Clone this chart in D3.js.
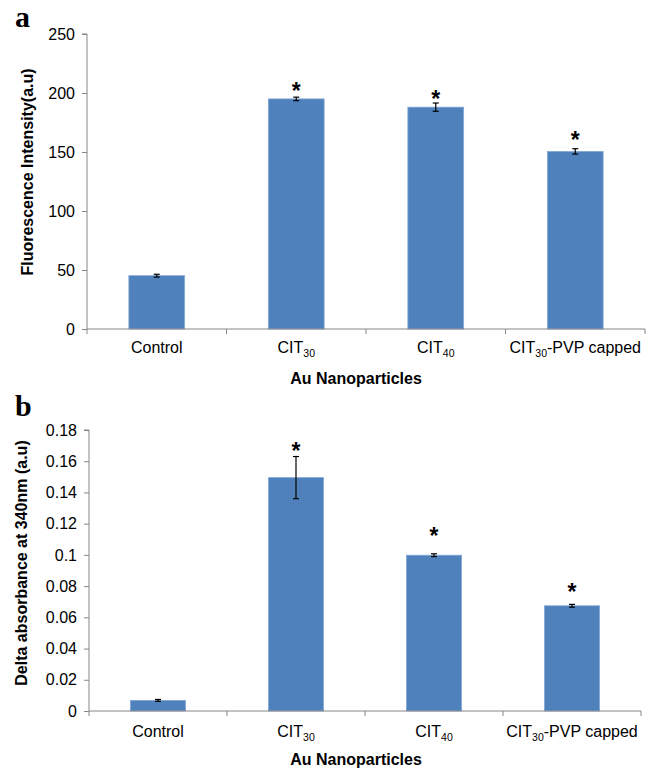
<!doctype html>
<html lang="en">
<head>
<meta charset="utf-8">
<title>Au nanoparticles</title>
<script src="https://cdn.jsdelivr.net/npm/d3@7"></script>
<style>
  body { margin: 0; background: #fff; }
  svg { display: block; font-family: "Liberation Sans", Arial, sans-serif; }
</style>
</head>
<body>
<svg id="chart" width="662" height="768"></svg>
<script>
// categories: [main text, subscript, trailing text]
const categories = [
  ["Control", "", ""],
  ["CIT", "30", ""],
  ["CIT", "40", ""],
  ["CIT", "30", "-PVP capped"]
];
const significant = [false, true, true, true];

// panel a - fluorescence
const fluorValues = [45.2, 195, 188, 150.5];
const fluorErrors = [1.2, 1.5, 3.5, 2.3];
const fluorStars  = [null, 205.5, 198, 163.5];
const fluorTicks  = [0, 50, 100, 150, 200, 250];

// panel b - delta absorbance
const absValues = [0.0068, 0.1495, 0.0998, 0.0674];
const absErrors = [0.0006, 0.0135, 0.0009, 0.0009];
const absStars  = [null, 0.1688, 0.1149, 0.0788];
const absTicks  = [0, 0.02, 0.04, 0.06, 0.08, 0.1, 0.12, 0.14, 0.16, 0.18];

const svg = d3.select("#chart");
const axisColor = "#868686";
const barColor = "#4f81bd";

function drawPanel(p) {
  const g = svg.append("g");
  const names = categories.map((c, i) => i);

  const x = d3.scaleBand()
    .domain(names)
    .range([p.x0, p.x1])
    .paddingInner(0.6)
    .paddingOuter(0.3);

  const y = d3.scaleLinear()
    .domain([0, d3.max(p.ticks)])
    .range([p.yBase, p.yTop]);

  // bars
  g.selectAll("rect.bar")
    .data(p.values)
    .enter().append("rect")
    .attr("class", "bar")
    .attr("x", (d, i) => x(i))
    .attr("width", x.bandwidth())
    .attr("y", d => y(d))
    .attr("height", d => y(0) - y(d))
    .attr("fill", barColor)
    .attr("stroke", "#86a8d6")
    .attr("stroke-width", 0.8);

  // error bars
  const cap = 3;
  const eb = g.selectAll("g.err")
    .data(p.values)
    .enter().append("g")
    .attr("class", "err")
    .attr("stroke", "#000")
    .attr("stroke-width", 1.2);
  eb.append("line")
    .attr("x1", (d, i) => x(i) + x.bandwidth() / 2)
    .attr("x2", (d, i) => x(i) + x.bandwidth() / 2)
    .attr("y1", (d, i) => y(d + p.errors[i]))
    .attr("y2", (d, i) => y(d - p.errors[i]));
  eb.append("line")
    .attr("x1", (d, i) => x(i) + x.bandwidth() / 2 - cap)
    .attr("x2", (d, i) => x(i) + x.bandwidth() / 2 + cap)
    .attr("y1", (d, i) => y(d + p.errors[i]))
    .attr("y2", (d, i) => y(d + p.errors[i]));
  eb.append("line")
    .attr("x1", (d, i) => x(i) + x.bandwidth() / 2 - cap)
    .attr("x2", (d, i) => x(i) + x.bandwidth() / 2 + cap)
    .attr("y1", (d, i) => y(d - p.errors[i]))
    .attr("y2", (d, i) => y(d - p.errors[i]));

  // significance stars
  g.selectAll("text.star")
    .data(p.stars.map((s, i) => ({ s, i })).filter(d => significant[d.i] && d.s != null))
    .enter().append("text")
    .attr("class", "star")
    .attr("x", d => x(d.i) + x.bandwidth() / 2)
    .attr("y", d => y(d.s) + 12)
    .attr("text-anchor", "middle")
    .attr("font-size", 23)
    .attr("font-weight", "bold")
    .text("*");

  // y axis
  const yAxis = g.append("g")
    .attr("transform", `translate(${p.x0},0)`)
    .call(d3.axisLeft(y).tickValues(p.ticks).tickSize(5).tickPadding(7)
      .tickFormat(d => String(+d.toFixed(2))));
  yAxis.select(".domain").attr("stroke", axisColor).attr("d", `M-5,${p.yTop}H0V${p.yBase}`);
  yAxis.selectAll(".tick line").attr("stroke", axisColor);
  yAxis.selectAll(".tick text")
    .attr("font-size", 16)
    .attr("font-family", "Liberation Sans, Arial, sans-serif")
    .attr("fill", "#000");

  // x axis line and category separators
  g.append("line")
    .attr("x1", p.x0).attr("x2", p.x1)
    .attr("y1", p.yBase).attr("y2", p.yBase)
    .attr("stroke", axisColor);
  const bounds = d3.range(categories.length + 1).map(i => p.x0 + i * x.step());
  g.selectAll("line.sep")
    .data(bounds)
    .enter().append("line")
    .attr("x1", d => d).attr("x2", d => d)
    .attr("y1", p.yBase).attr("y2", p.yBase + 5)
    .attr("stroke", axisColor);

  // category labels with subscripts
  const lab = g.selectAll("text.cat")
    .data(categories)
    .enter().append("text")
    .attr("class", "cat")
    .attr("x", (d, i) => x(i) + x.bandwidth() / 2)
    .attr("y", p.catY)
    .attr("text-anchor", "middle")
    .attr("font-size", 16);
  lab.append("tspan").text(d => d[0]);
  lab.filter(d => d[1]).append("tspan")
    .attr("font-size", 10.5).attr("dy", 4).text(d => d[1]);
  lab.filter(d => d[2]).append("tspan")
    .attr("dy", -4).text(d => d[2]);

  // axis titles
  g.append("text")
    .attr("x", p.xTitleX).attr("y", p.xTitleY)
    .attr("text-anchor", "middle")
    .attr("font-size", 16).attr("font-weight", "bold")
    .text("Au Nanoparticles");
  g.append("text")
    .attr("transform", `translate(${p.yTitleX},${p.yTitleY}) rotate(-90)`)
    .attr("text-anchor", "middle")
    .attr("font-size", 16).attr("font-weight", "bold")
    .text(p.yTitle);

  // panel letter
  g.append("text")
    .attr("x", 15).attr("y", p.letterY)
    .attr("font-family", "Liberation Serif, Times New Roman, serif")
    .attr("font-size", 30).attr("font-weight", "bold")
    .text(p.letter);
}

drawPanel({
  letter: "a", letterY: 27,
  values: fluorValues, errors: fluorErrors, stars: fluorStars, ticks: fluorTicks,
  x0: 87, x1: 645, yTop: 34, yBase: 329,
  catY: 353, xTitleX: 356, xTitleY: 384,
  yTitle: "Fluorescence Intensity(a.u)", yTitleX: 33, yTitleY: 172
});

drawPanel({
  letter: "b", letterY: 416,
  values: absValues, errors: absErrors, stars: absStars, ticks: absTicks,
  x0: 89, x1: 641, yTop: 430, yBase: 711,
  catY: 737, xTitleX: 356, xTitleY: 765,
  yTitle: "Delta absorbance at 340nm (a.u)", yTitleX: 27, yTitleY: 563
});
</script>
</body>
</html>
